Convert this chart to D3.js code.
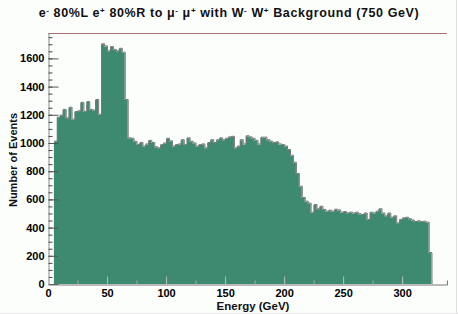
<!DOCTYPE html>
<html lang="en">
<head>
  <meta charset="UTF-8">
  <title>e- 80%L e+ 80%R to mu- mu+ with W- W+ Background (750 GeV)</title>
  <script src="https://d3js.org/d3.v7.min.js"></script>
  <style>
    body {
      margin: 0;
      padding: 0;
      background: #ffffff;
    }
    svg text {
      font-family: "Liberation Sans", Arial, sans-serif;
      font-weight: bold;
    }
  </style>
</head>
<body>
  <script>
    // histogram binning (GeV)
    const binStart = 5;
    const binWidth = 2.5;

    // event counts per bin
    const counts = [
      1010, 1180, 1195, 1235, 1175, 1250, 1165, 1220, 1225, 1285,
      1220, 1290, 1235, 1230, 1305, 1200,
      1700, 1685, 1650, 1680, 1660, 1650, 1668, 1640,
      1305,
      1033, 1030, 1009, 986, 1000, 975, 990, 1015, 1000, 970,
      962, 985, 997, 1030, 1012, 975, 985, 990, 1020, 985,
      1033, 1009, 997, 975, 985, 990, 962, 1000, 1020, 1000,
      1020, 1033, 1020, 1030, 1040, 1044, 962, 975, 1020, 990,
      1048, 1040, 1030, 1015, 990, 1038, 1038, 1020, 1010, 1000,
      1005, 990, 985, 975, 950, 910, 860, 780, 690, 610,
      584, 570, 506, 560, 530, 548, 525, 513, 520, 513,
      527, 522, 506, 510, 501, 506, 500, 506, 495, 489,
      500, 454, 506, 500, 513, 530, 500, 480, 500, 470,
      480, 430, 455, 466, 470, 460, 450, 440, 445, 440,
      442, 435, 220
    ];

    const yMajor = [0, 200, 400, 600, 800, 1000, 1200, 1400, 1600];
    const xMajor = [0, 50, 100, 150, 200, 250, 300];

    const width = 458;
    const height = 314;

    const x = d3.scaleLinear().domain([0, 338]).range([48, 447]);
    const y = d3.scaleLinear().domain([0, 1780]).range([284, 33]);

    const svg = d3.create("svg")
        .attr("width", width)
        .attr("height", height);

    svg.append("rect")
        .attr("width", width)
        .attr("height", height)
        .attr("fill", "#fcfefc");

    // points for a step shape, last edge repeats the last count
    const pts = counts.map((c, i) => [binStart + i * binWidth, c]);
    pts.push([binStart + counts.length * binWidth, counts[counts.length - 1]]);

    const area = d3.area()
        .curve(d3.curveStepAfter)
        .x(d => x(d[0]))
        .y0(y(0))
        .y1(d => y(d[1]));

    svg.append("path")
        .datum(pts)
        .attr("fill", "#3d8a71")
        .attr("d", area);

    const line = d3.line()
        .curve(d3.curveStepAfter)
        .x(d => x(d[0]))
        .y(d => y(d[1]));

    svg.append("path")
        .datum(pts)
        .attr("fill", "none")
        .attr("stroke", "#777")
        .attr("stroke-width", 1)
        .attr("transform", "translate(0.5,-0.5)")
        .attr("d", line);

    // closing edge of last bin
    svg.append("line")
        .attr("x1", x(pts[pts.length - 1][0]) + 0.5)
        .attr("x2", x(pts[pts.length - 1][0]) + 0.5)
        .attr("y1", y(counts[counts.length - 1]))
        .attr("y2", y(0))
        .attr("stroke", "#999");

    // top frame line
    svg.append("line")
        .attr("x1", x(0)).attr("x2", x(338))
        .attr("y1", y(1780) + 0.5).attr("y2", y(1780) + 0.5)
        .attr("stroke", "#a67070");

    // y axis: minor + major ticks pointing inward
    svg.append("g")
        .attr("transform", `translate(${x(0) + 0.5},0)`)
        .call(d3.axisLeft(y).tickValues(d3.range(0, 1781, 50)).tickSize(-4).tickFormat(""))
        .call(g => g.select(".domain").attr("stroke", "#888"))
        .call(g => g.selectAll(".tick line").attr("stroke", "#444"));

    svg.append("g")
        .attr("transform", `translate(${x(0) + 0.5},0)`)
        .call(d3.axisLeft(y).tickValues(yMajor).tickSize(-10).tickPadding(4).tickFormat(d3.format("d")))
        .call(g => g.select(".domain").remove())
        .call(g => g.selectAll(".tick line").attr("stroke", "#555"))
        .call(g => g.selectAll(".tick text").attr("font-size", 11).attr("font-weight", "bold")
            .attr("font-family", "Liberation Sans, Arial, sans-serif").attr("fill", "#000"));

    // x axis: ticks pointing up
    svg.append("g")
        .attr("transform", `translate(0,${y(0) + 0.5})`)
        .call(d3.axisBottom(x).tickValues(d3.range(0, 338, 25)).tickSize(-4).tickFormat(""))
        .call(g => g.select(".domain").attr("stroke", "#777"))
        .call(g => g.selectAll(".tick line").attr("stroke", "#aaa"));

    svg.append("g")
        .attr("transform", `translate(0,${y(0) + 0.5})`)
        .call(d3.axisBottom(x).tickValues(xMajor).tickSize(-8).tickPadding(5).tickFormat(d3.format("d")))
        .call(g => g.select(".domain").remove())
        .call(g => g.selectAll(".tick line").attr("stroke", "#bbb"))
        .call(g => g.selectAll(".tick text").attr("font-size", 11).attr("font-weight", "bold")
            .attr("font-family", "Liberation Sans, Arial, sans-serif").attr("fill", "#000"));

    // title with superscripts
    const title = svg.append("text")
        .attr("x", 229)
        .attr("y", 17)
        .attr("text-anchor", "middle")
        .attr("font-size", 12.5)
        .attr("letter-spacing", 0.6)
        .attr("fill", "#111");
    const parts = [
      ["e", 0], ["-", 1], [" 80%L e", 0], ["+", 1], [" 80%R to  \u03bc", 0], ["-", 1],
      [" \u03bc", 0], ["+", 1], [" with W", 0], ["-", 1], [" W", 0], ["+", 1],
      [" Background (750 GeV)", 0]
    ];
    parts.forEach(([t, sup]) => {
      const ts = title.append("tspan").text(t);
      if (sup) ts.attr("font-size", 8).attr("baseline-shift", "super");
    });

    svg.append("text")
        .attr("transform", "translate(17,160) rotate(-90)")
        .attr("text-anchor", "middle")
        .attr("font-size", 11)
        .attr("fill", "#111")
        .text("Number of Events");

    svg.append("text")
        .attr("x", 253)
        .attr("y", 310)
        .attr("text-anchor", "middle")
        .attr("font-size", 11.5)
        .attr("fill", "#111")
        .text("Energy (GeV)");

    // faint right / bottom frame of the picture
    svg.append("line")
        .attr("x1", 456.5).attr("x2", 456.5).attr("y1", 0).attr("y2", height)
        .attr("stroke", "#ddd");
    svg.append("line")
        .attr("x1", 0).attr("x2", width).attr("y1", 313.5).attr("y2", 313.5)
        .attr("stroke", "#e6e6e6");

    document.body.appendChild(svg.node());
  </script>
</body>
</html>
